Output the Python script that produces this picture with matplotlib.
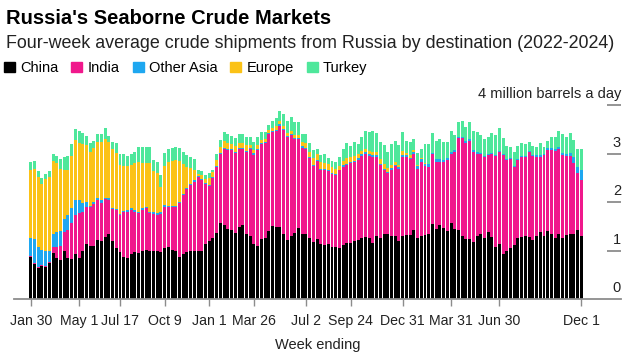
import matplotlib
matplotlib.use("Agg")
import matplotlib.pyplot as plt
import matplotlib.patches as mpatch
import matplotlib.transforms as mtrans
import numpy as np
import pandas as pd

plt.rcParams['font.family'] = ['Liberation Sans', 'DejaVu Sans']

# weekly bars, week ending Sunday
weeks = pd.date_range('2022-01-30', periods=149, freq='7D')

# million barrels a day, four-week average
china = [0.87, 0.72, 0.63, 0.69, 0.67, 0.75, 0.95, 0.85, 0.80, 1.00, 0.85, 0.82, 0.93, 0.85, 0.99, 1.13, 1.09, 1.10, 1.22, 1.20, 1.27, 1.35, 1.20, 1.06, 0.96,
         0.86, 0.84, 0.93, 0.96, 0.94, 1.00, 1.01, 0.99, 0.98, 0.98, 0.96, 1.06, 1.07, 1.01, 0.98, 0.87, 0.93, 0.96, 1.00, 0.99, 0.99, 0.99, 1.13, 1.20,
         1.25, 1.37, 1.57, 1.53, 1.44, 1.42, 1.37, 1.49, 1.53, 1.35, 1.29, 1.13, 1.10, 1.23, 1.26, 1.40, 1.51, 1.49, 1.49, 1.33, 1.22, 1.30, 1.37, 1.47, 1.35, 1.33,
         1.25, 1.18, 1.23, 1.13, 1.11, 1.13, 1.08, 1.08, 1.06, 1.11, 1.16, 1.16, 1.20, 1.22, 1.26, 1.27, 1.25, 1.16, 1.29, 1.25, 1.35, 1.35, 1.29, 1.30, 1.20,
         1.30, 1.32, 1.32, 1.42, 1.26, 1.29, 1.32, 1.35, 1.55, 1.44, 1.53, 1.46, 1.40, 1.56, 1.44, 1.42, 1.30, 1.23, 1.23, 1.18, 1.29, 1.33, 1.25, 1.39,
         1.27, 1.08, 1.13, 0.93, 1.00, 1.06, 1.11, 1.25, 1.27, 1.30, 1.27, 1.22, 1.30, 1.39, 1.29, 1.40, 1.33, 1.25, 1.35, 1.25, 1.32, 1.35, 1.33, 1.42, 1.30]

india = [0.02, 0.02, 0.02, 0.02, 0.02, 0.02, 0.13, 0.23, 0.30, 0.39, 0.57, 0.74, 0.80, 0.92, 0.80, 0.77, 0.80, 0.86, 0.82, 0.77, 0.79, 0.70, 0.65, 0.78, 0.77,
         0.93, 0.96, 0.91, 0.84, 0.83, 0.84, 0.86, 0.78, 0.77, 0.75, 0.79, 0.84, 0.82, 0.88, 0.91, 1.10, 1.21, 1.30, 1.35, 1.43, 1.52, 1.46, 1.25, 1.13,
         1.24, 1.36, 1.42, 1.57, 1.63, 1.65, 1.65, 1.60, 1.57, 1.69, 1.80, 1.84, 1.97, 1.97, 1.95, 2.00, 1.94, 1.97, 2.08, 2.15, 2.11, 2.08, 1.92, 1.82, 1.77, 1.76,
         1.65, 1.56, 1.62, 1.54, 1.55, 1.51, 1.50, 1.48, 1.59, 1.62, 1.60, 1.64, 1.62, 1.65, 1.69, 1.72, 1.70, 1.76, 1.63, 1.51, 1.31, 1.24, 1.38, 1.44, 1.49,
         1.63, 1.61, 1.56, 1.58, 1.43, 1.54, 1.42, 1.38, 1.44, 1.39, 1.30, 1.37, 1.47, 1.44, 1.60, 1.89, 2.01, 1.99, 2.03, 1.86, 1.71, 1.65, 1.68, 1.58,
         1.73, 1.87, 1.91, 2.04, 1.87, 1.82, 1.62, 1.62, 1.65, 1.63, 1.77, 1.73, 1.62, 1.53, 1.68, 1.68, 1.75, 1.80, 1.74, 1.71, 1.62, 1.60, 1.47, 1.17, 1.15]

other_asia = [0.36, 0.49, 0.43, 0.30, 0.29, 0.23, 0.27, 0.31, 0.31, 0.25, 0.31, 0.31, 0.32, 0.27, 0.18, 0.11, 0.03, 0.05, 0.04, 0.07, 0.03, 0.03, 0.03, 0.02, 0.03,
              0.03, 0.03, 0.03, 0.03, 0.03, 0.03, 0.03, 0.03, 0.04, 0.04, 0.04, 0.03, 0.03, 0.03, 0.03, 0.03, 0.03, 0.03, 0.03, 0.03, 0.02, 0.02, 0.02, 0.02,
              0.02, 0.02, 0.02, 0.02, 0.02, 0.02, 0.02, 0.02, 0.02, 0.02, 0.02, 0.04, 0.02, 0.02, 0.02, 0.02, 0.02, 0.02, 0.03, 0.03, 0.03, 0.03, 0.03, 0.03, 0.03, 0.02,
              0.02, 0.02, 0.02, 0.02, 0.02, 0.02, 0.02, 0.02, 0.02, 0.03, 0.03, 0.03, 0.03, 0.03, 0.03, 0.04, 0.04, 0.04, 0.04, 0.03, 0.03, 0.03, 0.03, 0.03, 0.03,
              0.03, 0.03, 0.03, 0.03, 0.05, 0.06, 0.05, 0.05, 0.03, 0.05, 0.05, 0.04, 0.04, 0.04, 0.04, 0.03, 0.03, 0.03, 0.03, 0.03, 0.03, 0.03, 0.02, 0.02,
              0.02, 0.02, 0.02, 0.02, 0.02, 0.02, 0.02, 0.02, 0.02, 0.02, 0.02, 0.02, 0.04, 0.04, 0.03, 0.03, 0.03, 0.04, 0.05, 0.06, 0.06, 0.07, 0.12, 0.14, 0.20]

europe = [1.42, 1.46, 1.43, 1.37, 1.49, 1.52, 1.50, 1.41, 1.28, 1.02, 0.92, 1.08, 1.23, 1.18, 1.22, 1.17, 1.12, 1.11, 1.16, 1.20, 1.20, 1.16, 1.21, 1.16, 1.00,
          0.93, 0.91, 0.89, 0.98, 1.03, 0.94, 0.90, 1.00, 0.84, 0.82, 0.51, 0.82, 0.90, 0.93, 0.94, 0.84, 0.61, 0.44, 0.32, 0.21, 0.05, 0.08, 0.08, 0.15,
          0.11, 0.12, 0.12, 0.13, 0.13, 0.11, 0.11, 0.11, 0.10, 0.11, 0.07, 0.07, 0.09, 0.06, 0.07, 0.06, 0.06, 0.08, 0.06, 0.06, 0.06, 0.06, 0.07, 0.07, 0.09, 0.11,
          0.11, 0.14, 0.11, 0.13, 0.12, 0.12, 0.12, 0.10, 0.08, 0.09, 0.11, 0.09, 0.10, 0.09, 0.08, 0.07, 0.07, 0.07, 0.07, 0.09, 0.09, 0.08, 0.06, 0.05, 0.05,
          0.09, 0.06, 0.06, 0.04, 0.02, 0.01, 0.01, 0.00, 0.00, 0.00, 0.00, 0.00, 0.00, 0.00, 0.00, 0.00, 0.00, 0.00, 0.00, 0.00, 0.00, 0.00, 0.00, 0.00,
          0.00, 0.00, 0.00, 0.00, 0.00, 0.00, 0.00, 0.00, 0.00, 0.00, 0.00, 0.00, 0.00, 0.00, 0.00, 0.00, 0.00, 0.00, 0.00, 0.00, 0.00, 0.00, 0.00, 0.00, 0.00]

turkey = [0.16, 0.16, 0.13, 0.12, 0.11, 0.12, 0.13, 0.15, 0.19, 0.27, 0.30, 0.24, 0.22, 0.24, 0.24, 0.18, 0.18, 0.14, 0.16, 0.16, 0.24, 0.12, 0.15, 0.20, 0.23,
          0.24, 0.21, 0.22, 0.23, 0.30, 0.33, 0.34, 0.33, 0.24, 0.24, 0.25, 0.27, 0.27, 0.27, 0.28, 0.28, 0.26, 0.24, 0.23, 0.22, 0.09, 0.08, 0.07, 0.10,
          0.05, 0.13, 0.15, 0.20, 0.18, 0.17, 0.16, 0.18, 0.18, 0.18, 0.15, 0.15, 0.17, 0.16, 0.15, 0.11, 0.15, 0.17, 0.22, 0.24, 0.25, 0.28, 0.25, 0.25, 0.16, 0.18,
          0.18, 0.17, 0.12, 0.15, 0.18, 0.12, 0.13, 0.15, 0.17, 0.24, 0.31, 0.23, 0.29, 0.21, 0.27, 0.37, 0.39, 0.44, 0.39, 0.36, 0.40, 0.34, 0.44, 0.44, 0.41,
          0.39, 0.24, 0.27, 0.23, 0.26, 0.20, 0.40, 0.42, 0.40, 0.38, 0.41, 0.37, 0.33, 0.43, 0.30, 0.30, 0.32, 0.29, 0.35, 0.40, 0.41, 0.37, 0.34, 0.36,
          0.40, 0.41, 0.46, 0.32, 0.26, 0.24, 0.29, 0.26, 0.28, 0.25, 0.17, 0.18, 0.17, 0.25, 0.13, 0.15, 0.22, 0.24, 0.32, 0.38, 0.35, 0.40, 0.36, 0.36, 0.44]

series = ['China', 'India', 'Other Asia', 'Europe', 'Turkey']
colors = ['#000000', '#f0188c', '#1ea7f0', '#fbc217', '#4ee79b']

tick_dates = ['2022-01-30', '2022-05-01', '2022-07-17', '2022-10-09', '2023-01-01', '2023-03-26',
              '2023-07-02', '2023-09-24', '2023-12-31', '2024-03-31', '2024-06-30', '2024-12-01']
tick_labels = ['Jan 30', 'May 1', 'Jul 17', 'Oct 9', 'Jan 1', 'Mar 26',
               'Jul 2', 'Sep 24', 'Dec 31', 'Mar 31', 'Jun 30', 'Dec 1']

y_ticks = [0, 1, 2, 3, 4]
y_labels = ['0', '1', '2', '3', '4 million barrels a day']

W, H = 631, 362
fig = plt.figure(figsize=(W / 100, H / 100), dpi=100)
ax = fig.add_axes([14 / W, 63 / H, 607 / W, 194 / H])

x = np.arange(len(weeks))
bottom = np.zeros(len(weeks))
for name, vals, c in zip(series, [china, india, other_asia, europe, turkey], colors):
    vals = np.array(vals)
    ax.bar(x, vals, bottom=bottom, width=0.8, color=c, linewidth=0)
    bottom += vals

ax.set_ylim(0, 4)
ax.set_xlim(-4.5, 158.7)

for s in ['top', 'left', 'right']:
    ax.spines[s].set_visible(False)
ax.spines['bottom'].set_color('#8c8c8c')
ax.spines['bottom'].set_linewidth(1.3)

ax.set_xticks(weeks.get_indexer(pd.to_datetime(tick_dates)))
ax.set_xticklabels(tick_labels, fontsize=10.2, color='#222222')
ax.tick_params(axis='x', direction='out', length=5, width=1, color='#8c8c8c', pad=6)

ax.yaxis.set_ticks_position('right')
ax.set_yticks(y_ticks[1:])
ax.tick_params(axis='y', direction='in', length=10, width=1.3, color='#8c8c8c', labelright=False)

trans = mtrans.blended_transform_factory(ax.transAxes, ax.transData)
off = mtrans.offset_copy(trans, fig=fig, x=0, y=5, units='points')
for v, lab in zip(y_ticks, y_labels):
    ax.text(1.0, v, lab, transform=off, ha='right', va='baseline', fontsize=10.5, color='#222222')

fig.text(317.5 / W, 1 - 345 / H, 'Week ending', ha='center', va='center', fontsize=10.5, color='#222222')

fig.text(6 / W, 1 - 18 / H, "Russia's Seaborne Crude Markets", fontsize=14.5, fontweight='bold', va='center')
fig.text(6 / W, 1 - 44 / H, 'Four-week average crude shipments from Russia by destination (2022-2024)',
         fontsize=12.9, va='center', color='#222222')

handles = [mpatch.Patch(color=c) for c in colors]
fig.legend(handles, series, loc='center left', bbox_to_anchor=(4 / W, 1 - 68 / H), ncol=5, frameon=False,
           fontsize=10.5, handlelength=0.75, handleheight=0.75, handletextpad=0.35, columnspacing=0.9,
           borderaxespad=0, borderpad=0)

fig.savefig('out.png', dpi=100)
